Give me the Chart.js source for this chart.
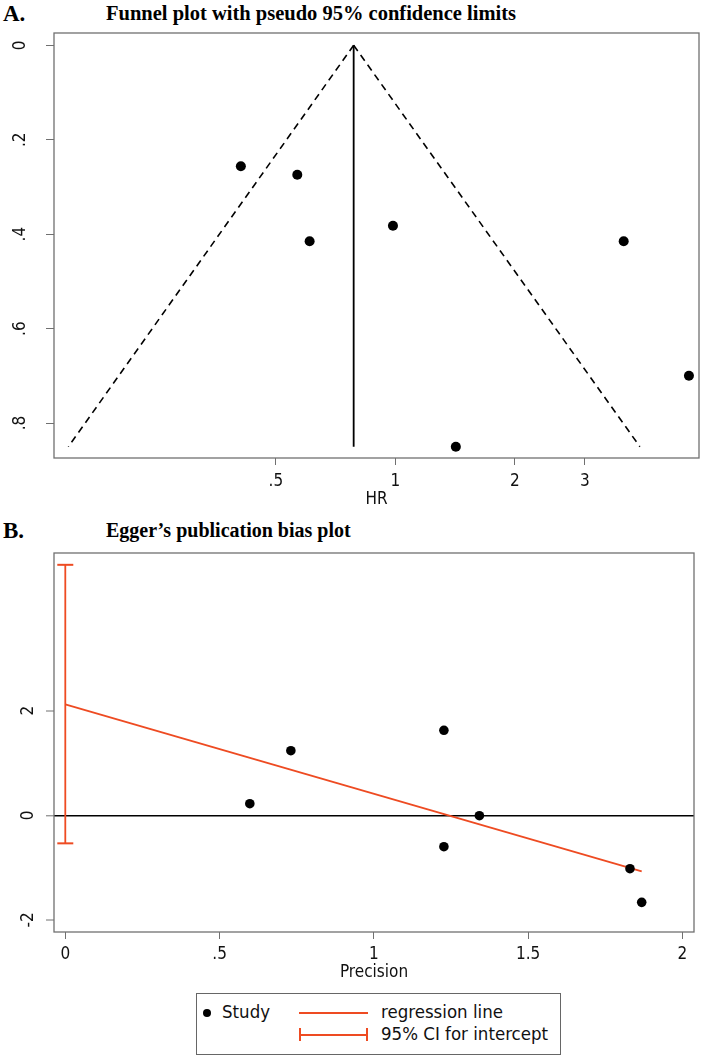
<!DOCTYPE html>
<html><head><meta charset="utf-8">
<script src="https://cdn.jsdelivr.net/npm/chart.js@4/dist/chart.umd.min.js"></script>
<style>
html,body{margin:0;padding:0;background:#fff;}
body{width:704px;height:1058px;position:relative;overflow:hidden;font-family:'Liberation Sans Narrow','DejaVu Sans Condensed',sans-serif;color:#111;}
.lab{position:absolute;font-family:'Liberation Serif','Times New Roman',serif;font-weight:bold;color:#000;white-space:nowrap;line-height:1;}
canvas{position:absolute;left:0;}
#legend{position:absolute;left:196px;top:993px;width:365px;height:62px;border:1px solid #666;box-sizing:border-box;font-size:18.5px;}
#legend .t{position:absolute;line-height:1;white-space:nowrap;}
#legend .dot{position:absolute;width:8px;height:8px;border-radius:50%;background:#000;}
#legend .ln{position:absolute;height:2px;background:#ee4b22;}
#legend .cap{position:absolute;width:2px;height:13px;background:#ee4b22;}
</style>
</head><body>
<div class="lab" style="left:3px;top:2px;font-size:23px;">A.</div>
<div class="lab" id="titleA" style="left:106px;top:3px;font-size:20.5px;">Funnel plot with pseudo 95% confidence limits</div>
<canvas id="c1" width="704" height="515" style="top:0px;"></canvas>
<div class="lab" style="left:3px;top:519px;font-size:23px;">B.</div>
<div class="lab" id="titleB" style="left:106px;top:520px;font-size:20px;">Egger’s publication bias plot</div>
<canvas id="c2" width="704" height="475" style="top:515px;"></canvas>
<div id="legend">
  <div class="dot" style="left:6px;top:15px;"></div>
  <div class="t" style="left:25px;top:9px;">Study</div>
  <div class="ln" style="left:102px;top:18px;width:69px;"></div>
  <div class="t" style="left:184px;top:9px;">regression line</div>
  <div class="ln" style="left:102px;top:40px;width:69px;"></div>
  <div class="cap" style="left:102px;top:34px;"></div>
  <div class="cap" style="left:169px;top:34px;"></div>
  <div class="t" style="left:184px;top:31px;">95% CI for intercept</div>
</div>
<script>
// ---------- Panel A: funnel plot ----------
const funnelHR = [0.408, 0.566, 0.608, 0.986, 3.76, 5.49, 1.42];
const funnelSE = [0.256, 0.274, 0.415, 0.382, 0.415, 0.700, 0.850];
const pooledHR = 0.785;
const limitSE = [0, 0.85];
const lowerLimitHR = [0.785, 0.150];
const upperLimitHR = [0.785, 4.13];
const hrTicks = [0.5, 1, 2, 3];
const hrTickLabels = ['.5', '1', '2', '3'];
const seTicks = [0, 0.2, 0.4, 0.6, 0.8];
const seTickLabels = ['0', '.2', '.4', '.6', '.8'];

// ---------- Panel B: Egger plot ----------
const precision = [0.598, 0.731, 1.227, 1.342, 1.227, 1.830, 1.868];
const stdEffect = [0.223, 1.236, 1.626, -0.007, -0.599, -1.020, -1.663];
const regX = [0, 1.868];
const regY = [2.12, -1.07];
const ciIntercept = [-0.535, 4.79];
const precTicks = [0, 0.5, 1, 1.5, 2];
const precTickLabels = ['0', '.5', '1', '1.5', '2'];
const effTicks = [-2, 0, 2];
const effTickLabels = ['-2', '0', '2'];

const RED = '#ee4b22';
const FONT = "'Liberation Sans Narrow','DejaVu Sans Condensed',sans-serif";
Chart.defaults.font.family = FONT;
Chart.defaults.font.size = 17;
Chart.defaults.color = '#111';

const boxPlugin = {
  id: 'box',
  afterDraw(chart) {
    const {ctx, chartArea: a} = chart;
    ctx.save();
    ctx.strokeStyle = '#707070';
    ctx.lineWidth = 1.3;
    ctx.strokeRect(a.left, a.top, a.right - a.left, a.bottom - a.top);
    ctx.restore();
  }
};

function fixTicks(values) { return axis => { axis.ticks = values.map(v => ({value: v})); }; }

const commonOpts = {
  responsive: false, animation: false, devicePixelRatio: 1,
  plugins: {legend: {display: false}, tooltip: {enabled: false}}
};

// Panel A
new Chart(document.getElementById('c1'), {
  type: 'scatter',
  data: {
    datasets: [
      {data: funnelHR.map((h, i) => ({x: h, y: funnelSE[i]})), backgroundColor: '#000', borderColor: '#000', pointRadius: 5, pointBorderWidth: 0},
      {data: limitSE.map((s, i) => ({x: lowerLimitHR[i], y: s})), showLine: true, borderColor: '#000', borderWidth: 1.6, borderDash: [7, 5], pointRadius: 0},
      {data: limitSE.map((s, i) => ({x: upperLimitHR[i], y: s})), showLine: true, borderColor: '#000', borderWidth: 1.6, borderDash: [7, 5], pointRadius: 0},
      {data: limitSE.map(s => ({x: pooledHR, y: s})), showLine: true, borderColor: '#000', borderWidth: 1.8, pointRadius: 0}
    ]
  },
  options: Object.assign({}, commonOpts, {
    layout: {padding: {top: 33, right: 4, left: 0, bottom: 0}},
    scales: {
      x: {
        type: 'logarithmic', min: 0.138, max: 5.82,
        afterBuildTicks: fixTicks(hrTicks),
        afterFit: a => { a.height = 57; },
        ticks: {autoSkip: false, maxRotation: 0, padding: 6, callback: (v, i) => hrTickLabels[i]},
        grid: {drawOnChartArea: false, drawTicks: true, tickLength: 7, tickColor: '#707070', tickWidth: 1},
        border: {display: false},
        title: {display: true, text: 'HR', padding: {top: 0, bottom: 5}}
      },
      y: {
        type: 'linear', reverse: true, min: -0.026, max: 0.874,
        afterBuildTicks: fixTicks(seTicks),
        afterFit: a => { a.width = 54; },
        ticks: {autoSkip: false, minRotation: 90, maxRotation: 90, crossAlign: 'center', padding: 18, callback: (v, i) => seTickLabels[i]},
        grid: {drawOnChartArea: false, drawTicks: true, tickLength: 8, tickColor: '#707070', tickWidth: 1},
        border: {display: false}
      }
    }
  }),
  plugins: [boxPlugin]
});

// Panel B
new Chart(document.getElementById('c2'), {
  type: 'scatter',
  data: {
    datasets: [
      {data: precision.map((p, i) => ({x: p, y: stdEffect[i]})), backgroundColor: '#000', borderColor: '#000', pointRadius: 4.8, pointBorderWidth: 0},
      {data: regX.map((x, i) => ({x: x, y: regY[i]})), showLine: true, borderColor: RED, borderWidth: 1.8, pointRadius: 0},
      {data: ciIntercept.map(y => ({x: 0, y: y})), showLine: true, borderColor: RED, borderWidth: 1.8,
       pointStyle: 'line', pointRadius: 8, pointBorderColor: RED, pointBorderWidth: 2}
    ]
  },
  options: Object.assign({}, commonOpts, {
    layout: {padding: {top: 38, right: 3, left: 0, bottom: 0}},
    scales: {
      x: {
        type: 'linear', min: -0.0366, max: 2.0375,
        afterBuildTicks: fixTicks(precTicks),
        afterFit: a => { a.height = 58; },
        ticks: {autoSkip: false, maxRotation: 0, padding: 5, callback: (v, i) => precTickLabels[i]},
        grid: {drawOnChartArea: false, drawTicks: true, tickLength: 7, tickColor: '#707070', tickWidth: 1},
        border: {display: false},
        title: {display: true, text: 'Precision', padding: {top: 0, bottom: 7}}
      },
      y: {
        type: 'linear', min: -2.23, max: 5.016,
        afterBuildTicks: fixTicks(effTicks),
        afterFit: a => { a.width = 54; },
        ticks: {autoSkip: false, minRotation: 90, maxRotation: 90, crossAlign: 'center', padding: 10, callback: (v, i) => effTickLabels[i]},
        grid: {drawOnChartArea: true, drawTicks: true, tickLength: 8, tickColor: '#707070', tickWidth: 1,
               color: c => (c.tick && c.tick.value === 0) ? '#000' : 'rgba(0,0,0,0)',
               lineWidth: c => (c.tick && c.tick.value === 0) ? 1.6 : 0},
        border: {display: false}
      }
    }
  }),
  plugins: [boxPlugin]
});
</script>
</body></html>
